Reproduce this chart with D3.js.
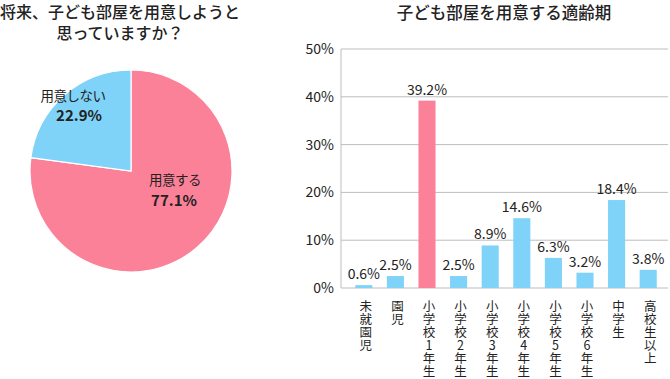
<!DOCTYPE html>
<html>
<head>
<meta charset="utf-8">
<script src="https://cdn.jsdelivr.net/npm/d3@7"></script>
<style>
  body { margin: 0; background: #fff; }
  text { font-family: "Noto Sans CJK JP", "Noto Sans", sans-serif; fill: #222; }
</style>
</head>
<body>
<div id="chart"></div>
<script>
var width = 670, height = 379;

// pie data
var pieLabels = ['用意する', '用意しない'];
var pieValues = [77.1, 22.9];
var pieColors = ['#fb8199', '#7fd2f8'];

// bar data
var barCats = ['未就園児', '園児', '小学校1年生', '小学校2年生', '小学校3年生', '小学校4年生', '小学校5年生', '小学校6年生', '中学生', '高校生以上'];
var barValues = [0.6, 2.5, 39.2, 2.5, 8.9, 14.6, 6.3, 3.2, 18.4, 3.8];
var yTicks = [0, 10, 20, 30, 40, 50];

var svg = d3.select('#chart').append('svg')
    .attr('width', width)
    .attr('height', height);

// titles
svg.append('text').attr('x', 120).attr('y', 18).attr('text-anchor', 'middle')
    .attr('font-size', 16).attr('font-weight', 500).text('将来、子ども部屋を用意しようと');
svg.append('text').attr('x', 120).attr('y', 39).attr('text-anchor', 'middle')
    .attr('font-size', 16).attr('font-weight', 500).text('思っていますか？');
svg.append('text').attr('x', 504).attr('y', 19).attr('text-anchor', 'middle')
    .attr('font-size', 16.5).attr('font-weight', 500).text('子ども部屋を用意する適齢期');

// ---- pie ----
var cx = 131, cy = 171, r = 101;
var pie = d3.pie().sort(null).value(function(d){ return d; });
var arc = d3.arc().innerRadius(0).outerRadius(r);
var pg = svg.append('g').attr('transform', 'translate(' + cx + ',' + cy + ')');
pg.selectAll('path')
    .data(pie(pieValues))
    .enter().append('path')
    .attr('d', arc)
    .attr('fill', function(d, i){ return pieColors[i]; })
    .attr('stroke', '#fff')
    .attr('stroke-width', 1.2);

// [name x, name y, value x, value y]
var pieLabelPos = [[44, 14, 43, 35], [-58, -70, -52, -50]];
pieValues.forEach(function(v, i){
    var p = pieLabelPos[i];
    pg.append('text').attr('x', p[0]).attr('y', p[1]).attr('text-anchor', 'middle')
        .attr('font-size', 13.5).attr('letter-spacing', -0.5).text(pieLabels[i]);
    pg.append('text').attr('x', p[2]).attr('y', p[3]).attr('text-anchor', 'middle')
        .attr('font-weight', 'bold').attr('font-size', 15).text(v.toFixed(1) + '%');
});

// ---- bars ----
var x = d3.scaleBand().domain(barCats).range([348, 664]).paddingInner(0.46).paddingOuter(0.23);
var y = d3.scaleLinear().domain([0, 50]).range([288, 49]);

var grid = svg.append('g');
grid.selectAll('line')
    .data(yTicks)
    .enter().append('line')
    .attr('x1', 341).attr('x2', 668)
    .attr('y1', function(d){ return y(d); })
    .attr('y2', function(d){ return y(d); })
    .attr('stroke', '#bdbdbd').attr('stroke-width', 1);
svg.append('line').attr('x1', 341).attr('x2', 341).attr('y1', y(50)).attr('y2', y(0))
    .attr('stroke', '#bdbdbd');

grid.selectAll('text')
    .data(yTicks)
    .enter().append('text')
    .attr('x', 334).attr('y', function(d){ return y(d) + 5; })
    .attr('text-anchor', 'end').attr('font-size', 14)
    .text(function(d){ return d + '%'; });

svg.selectAll('rect.bar')
    .data(barValues)
    .enter().append('rect')
    .attr('class', 'bar')
    .attr('x', function(d, i){ return x(barCats[i]); })
    .attr('width', x.bandwidth())
    .attr('y', function(d){ return y(d); })
    .attr('height', function(d){ return y(0) - y(d); })
    .attr('fill', function(d, i){ return i === 2 ? pieColors[0] : pieColors[1]; });

svg.selectAll('text.val')
    .data(barValues)
    .enter().append('text')
    .attr('class', 'val')
    .attr('x', function(d, i){ return x(barCats[i]) + x.bandwidth() / 2; })
    .attr('y', function(d){ return y(d) - 6; })
    .attr('text-anchor', 'middle').attr('font-size', 14)
    .text(function(d){ return d.toFixed(1) + '%'; });

// vertical category labels, one character per line
svg.selectAll('text.cat')
    .data(barCats)
    .enter().append('text')
    .attr('class', 'cat')
    .attr('text-anchor', 'middle').attr('font-size', 12.5)
    .each(function(d){
        var t = d3.select(this);
        var cxp = x(d) + x.bandwidth() / 2 + 2;
        d.split('').forEach(function(ch, j){
            t.append('tspan').attr('x', cxp).attr('y', 311 + j * 13).text(ch);
        });
    });
</script>
</body>
</html>
